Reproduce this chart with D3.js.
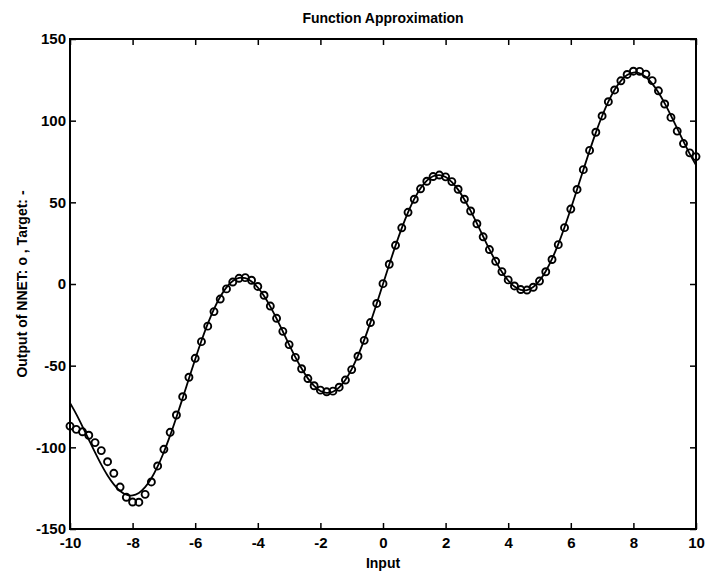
<!DOCTYPE html>
<html>
<head>
<meta charset="utf-8">
<script src="https://cdn.jsdelivr.net/npm/d3@7"></script>
<style>
  html, body { margin: 0; padding: 0; background: #fff; }
  svg { display: block; }
  text { font-family: "Liberation Sans", Arial, Helvetica, sans-serif; }
</style>
</head>
<body>
<div id="chart"></div>
<script>
// ---- data ----
const inputs = [-10,-9.8,-9.6,-9.4,-9.2,-9,-8.8,-8.6,-8.4,-8.2,-8,-7.8,-7.6,-7.4,-7.2,-7,-6.8,-6.6,-6.4,-6.2,-6,-5.8,-5.6,-5.4,-5.2,-5,-4.8,-4.6,-4.4,-4.2,-4,-3.8,-3.6,-3.4,-3.2,-3,-2.8,-2.6,-2.4,-2.2,-2,-1.8,-1.6,-1.4,-1.2,-1,-0.8,-0.6,-0.4,-0.2,0,0.2,0.4,0.6,0.8,1,1.2,1.4,1.6,1.8,2,2.2,2.4,2.6,2.8,3,3.2,3.4,3.6,3.8,4,4.2,4.4,4.6,4.8,5,5.2,5.4,5.6,5.8,6,6.2,6.4,6.6,6.8,7,7.2,7.4,7.6,7.8,8,8.2,8.4,8.6,8.8,9,9.2,9.4,9.6,9.8,10];

const target = [-72.8,-79.68,-87.28,-95.24,-103.14,-110.61,-117.25,-122.72,-126.73,-129.04,-129.47,-127.93,-124.4,-118.94,-111.68,-102.85,-92.71,-81.58,-69.83,-57.85,-46.03,-34.77,-24.44,-15.36,-7.83,-2.05,1.81,3.68,3.58,1.58,-2.16,-7.41,-13.87,-21.22,-29.08,-37.06,-44.75,-51.78,-57.77,-62.43,-65.47,-66.69,-65.98,-63.27,-58.6,-52.07,-43.87,-34.23,-23.47,-11.93,0,11.93,23.47,34.23,43.87,52.07,58.6,63.27,65.98,66.69,65.47,62.43,57.77,51.78,44.75,37.06,29.08,21.22,13.87,7.41,2.16,-1.58,-3.58,-3.68,-1.81,2.05,7.83,15.36,24.44,34.77,46.03,57.85,69.83,81.58,92.71,102.85,111.68,118.94,124.4,127.93,129.47,129.04,126.73,122.72,117.25,110.61,103.14,95.24,87.28,79.68,72.8];

const nnet = [-87.0,-89.0,-90.5,-92.6,-97.1,-102.0,-108.8,-115.9,-124.3,-130.6,-133.5,-133.6,-128.8,-121.2,-111.4,-101.2,-90.8,-80.2,-69.0,-57.1,-45.5,-35.3,-25.8,-16.9,-9.2,-3.0,1.2,3.5,3.9,2.3,-1.5,-6.9,-13.5,-21.0,-29.0,-37.1,-44.9,-51.9,-57.9,-62.3,-65.0,-66.0,-65.6,-63.2,-58.8,-52.4,-44.2,-34.5,-23.6,-11.9,0.2,12.1,23.7,34.4,43.9,51.9,58.3,62.9,65.8,66.7,65.6,62.7,58.0,51.9,44.7,36.9,28.9,21.1,13.9,7.6,2.5,-1.2,-3.4,-3.7,-2.0,1.8,7.5,15.0,24.1,34.5,45.9,57.9,70.0,81.8,92.9,102.9,111.6,118.8,124.4,128.3,130.3,130.2,128.5,124.5,118.3,110.2,102.0,93.6,86.0,80.3,78.0];

const xTicks = [-10,-8,-6,-4,-2,0,2,4,6,8,10];
const yTicks = [-150,-100,-50,0,50,100,150];

const titleText = "Function Approximation";
const xLabelText = "Input";
const yLabelText = "Output of NNET: o ,  Target: -";

// ---- layout ----
const W = 711, H = 578;
const m = { left: 70, right: 15, top: 39, bottom: 49 };
const iw = W - m.left - m.right, ih = H - m.top - m.bottom;

const svg = d3.select("#chart").append("svg").attr("width", W).attr("height", H);
const g = svg.append("g").attr("transform", `translate(${m.left},${m.top})`);

const x = d3.scaleLinear().domain([-10, 10]).range([0, iw]);
const y = d3.scaleLinear().domain([-150, 150]).range([ih, 0]);

// target line
const line = d3.line().x((d, i) => x(inputs[i])).y(d => y(d)).curve(d3.curveCatmullRom);
g.append("path").datum(target)
  .attr("d", line).attr("fill", "none").attr("stroke", "#000").attr("stroke-width", 1.8);

// nnet circles
g.selectAll("circle.nn").data(nnet).enter().append("circle")
  .attr("class", "nn")
  .attr("cx", (d, i) => x(inputs[i]))
  .attr("cy", d => y(d))
  .attr("r", 3.5)
  .attr("fill", "none").attr("stroke", "#000").attr("stroke-width", 1.9);

// axes (ticks inward on all sides)
const fmt = d => String(d); // plain hyphen-minus as in the original
const tickStyle = sel => {
  sel.select(".domain").remove();
  sel.selectAll(".tick line").attr("stroke", "#000").attr("stroke-width", 1.5);
  sel.selectAll("text").attr("font-size", 15).attr("font-weight", "bold").attr("fill", "#000");
};
g.append("g").attr("transform", `translate(0,${ih})`)
  .call(d3.axisBottom(x).tickValues(xTicks).tickSizeInner(-6).tickSizeOuter(0).tickPadding(8).tickFormat(fmt))
  .call(tickStyle);
g.append("g")
  .call(d3.axisTop(x).tickValues(xTicks).tickSizeInner(-6).tickSizeOuter(0).tickFormat(""))
  .call(tickStyle);
g.append("g")
  .call(d3.axisLeft(y).tickValues(yTicks).tickSizeInner(-6).tickSizeOuter(0).tickPadding(4).tickFormat(fmt))
  .call(tickStyle);
g.append("g").attr("transform", `translate(${iw},0)`)
  .call(d3.axisRight(y).tickValues(yTicks).tickSizeInner(-6).tickSizeOuter(0).tickFormat(""))
  .call(tickStyle);

// frame
g.append("rect").attr("x", 0).attr("y", 0).attr("width", iw).attr("height", ih)
  .attr("fill", "none").attr("stroke", "#000").attr("stroke-width", 2);

// labels
svg.append("text").attr("x", m.left + iw / 2).attr("y", 23)
  .attr("text-anchor", "middle").attr("font-size", 14).attr("font-weight", "bold")
  .text(titleText);
svg.append("text").attr("x", m.left + iw / 2).attr("y", 568)
  .attr("text-anchor", "middle").attr("font-size", 14).attr("font-weight", "bold")
  .text(xLabelText);
svg.append("text")
  .attr("transform", `translate(27,${m.top + ih / 2}) rotate(-90)`)
  .attr("text-anchor", "middle").attr("font-size", 14).attr("font-weight", "bold")
  .text(yLabelText);
</script>
</body>
</html>
